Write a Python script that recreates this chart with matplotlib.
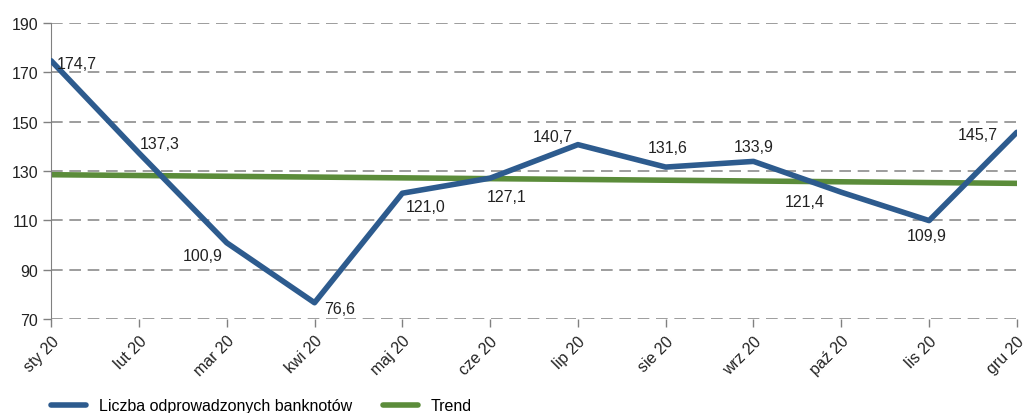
import matplotlib.pyplot as plt
import numpy as np

plt.rcParams['font.family'] = ['Liberation Sans Narrow', 'Liberation Sans', 'DejaVu Sans']

miesiace = ['sty 20', 'lut 20', 'mar 20', 'kwi 20', 'maj 20', 'cze 20',
            'lip 20', 'sie 20', 'wrz 20', 'paź 20', 'lis 20', 'gru 20']
banknoty = [174.7, 137.3, 100.9, 76.6, 121.0, 127.1, 140.7, 131.6, 133.9, 121.4, 109.9, 145.7]
trend_koniec = [128.5, 125.0]   # wartość trendu w styczniu i w grudniu

# przesunięcia etykiet danych (w punktach)
przes = [(18.5, -2), (15, 6.5), (-17, -9.5), (18, -4.5), (17, -9.5), (12, -13),
         (-18, 6), (1.5, 14), (0.5, 11), (-26.5, -7), (-2, -11), (-28, -1.5)]

x = np.arange(len(miesiace))

fig = plt.figure(figsize=(10.23, 4.14), dpi=100)
ax = fig.add_axes([0.05, 0.227, 0.944, 0.715])

ax.plot(x, banknoty, color='#2D5B8E', lw=4, solid_capstyle='round',
        label='Liczba odprowadzonych banknotów', zorder=3)
ax.plot([x[0], x[-1]], trend_koniec, color='#5B8C3A', lw=4, solid_capstyle='round',
        label='Trend', zorder=2)

for xi, yi, (dx, dy) in zip(x, banknoty, przes):
    ax.annotate(f'{yi:.1f}'.replace('.', ','), (xi, yi), xytext=(dx, dy),
                textcoords='offset points', ha='center', va='center',
                fontsize=11.5, color='#222222')

ax.set_xlim(0, 11)
ax.set_ylim(70, 190)
ax.set_yticks(np.arange(70, 191, 20))
ax.set_xticks(x)
ax.set_xticklabels(miesiace, rotation=45, ha='right', rotation_mode='anchor')
ax.tick_params(axis='both', labelsize=11.5, color='#808080', length=6, width=1,
               labelcolor='#222222')
ax.tick_params(axis='x', pad=4)

ax.grid(axis='y', color='#8c8c8c', linestyle=(0, (7, 4)), lw=1.2)
ax.set_axisbelow(True)
for s in ['top', 'right', 'bottom']:
    ax.spines[s].set_visible(False)
ax.spines['left'].set_color('#808080')

fig.legend(loc='center left', bbox_to_anchor=(0.036, 0.017), ncol=2, frameon=False,
           fontsize=11.5, handlelength=2.2, handletextpad=0.8, columnspacing=1.9)

plt.savefig('out.png', dpi=100)
